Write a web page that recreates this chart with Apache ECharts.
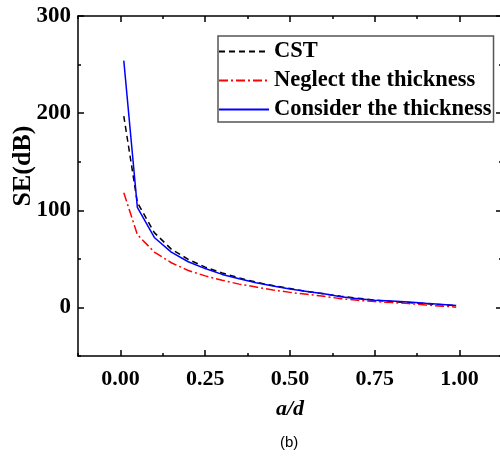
<!DOCTYPE html>
<html>
<head>
<meta charset="utf-8">
<script src="https://cdn.jsdelivr.net/npm/echarts@6/dist/echarts.min.js"></script>
<style>html,body{margin:0;padding:0;background:#fff;}#c{width:500px;height:462px;}</style>
</head>
<body>
<div id="c"></div>
<script>
var xValues = [0.01, 0.05, 0.1, 0.15, 0.2, 0.25, 0.3, 0.35, 0.4, 0.45, 0.5, 0.55, 0.6, 0.65, 0.7, 0.75, 0.8, 0.85, 0.9, 0.95, 0.99];
var cstValues = [197, 108, 77, 60, 49.5, 41.5, 35.5, 30.5, 26, 22.5, 19.5, 16.5, 14, 11.5, 9.5, 7.5, 6, 5, 3.8, 2.8, 1.8];
var neglectValues = [118, 75, 57, 46, 38, 32.5, 28, 24, 21, 18, 15.5, 13.5, 11.5, 9, 7.3, 6, 5, 4, 2.5, 1.3, 0.3];
var considerValues = [254, 103, 72, 57, 47, 40, 34, 29.5, 25.5, 22, 19, 16.5, 14, 11, 9, 7.5, 6.5, 5.5, 4.2, 3, 2];
var seriesNames = ['CST', 'Neglect the thickness', 'Consider the thickness'];
var xMajorTicks = [0, 0.25, 0.5, 0.75, 1.0];
var yMajorTicks = [0, 100, 200, 300];
var xTitle = 'a/d';
var yTitle = 'SE(dB)';
var caption = '(b)';

function pairs(ys) { return xValues.map(function (x, i) { return [x, ys[i]]; }); }

var FONT = 'Liberation Serif';
var chart = echarts.init(document.getElementById('c'), null, {renderer: 'canvas'});

function xAx(pos, major, showLine, showLabel) {
  return {
    type: 'value', position: pos, min: -0.125, max: 1.125, interval: 0.125,
    axisLine: {show: showLine, onZero: false, lineStyle: {color: '#000', width: 1.5}},
    axisTick: major ? {show: true, inside: true, length: 6, customValues: xMajorTicks, lineStyle: {color: '#000', width: 1.5}}
                    : {show: true, inside: true, length: 3, lineStyle: {color: '#000', width: 1.5}},
    axisLabel: {show: showLabel, margin: 12, color: '#000', fontFamily: FONT, fontWeight: 'bold', fontSize: 22,
      formatter: function (v) { var k = v / 0.25; if (Math.abs(k - Math.round(k)) < 1e-6 && v >= -1e-9 && v <= 1 + 1e-9) return v.toFixed(2); return ''; }},
    splitLine: {show: false}
  };
}
function yAx(pos, major, showLine, showLabel) {
  return {
    type: 'value', position: pos, min: -50, max: 300, interval: 50,
    axisLine: {show: showLine, onZero: false, lineStyle: {color: '#000', width: 1.5}},
    axisTick: major ? {show: true, inside: true, length: 6, customValues: yMajorTicks, lineStyle: {color: '#000', width: 1.5}}
                    : {show: true, inside: true, length: 3, lineStyle: {color: '#000', width: 1.5}},
    axisLabel: {show: showLabel, margin: 7, color: '#000', fontFamily: FONT, fontWeight: 'bold', fontSize: 23,
      formatter: function (v) { if (v >= 0 && Math.abs(v % 100) < 1e-6) return String(v); return ''; }},
    splitLine: {show: false}
  };
}

var xa0 = xAx('bottom', false, true, true);
xa0.name = xTitle; xa0.nameLocation = 'middle'; xa0.nameGap = 42; xa0.nameMoveOverlap = false;
xa0.nameTextStyle = {color: '#000', fontFamily: FONT, fontWeight: 'bold', fontStyle: 'italic', fontSize: 22};
var ya0 = yAx('left', false, true, true);
ya0.name = yTitle; ya0.nameLocation = 'middle'; ya0.nameGap = 42; ya0.nameRotate = 90; ya0.nameMoveOverlap = false;
ya0.nameTextStyle = {color: '#000', fontFamily: FONT, fontWeight: 'bold', fontSize: 26, padding: [0, 0, 0, 40]};

var option = {
  backgroundColor: '#fff',
  animation: false,
  grid: {left: 78, top: 16, right: -2, bottom: 106, containLabel: false, outerBoundsMode: 'none'},
  xAxis: [xa0, xAx('bottom', true, false, false), xAx('top', false, true, false), xAx('top', true, false, false)],
  yAxis: [ya0, yAx('left', true, false, false), yAx('right', false, true, false), yAx('right', true, false, false)],
  legend: {
    orient: 'vertical', left: 218, top: 36, itemWidth: 50, itemHeight: 14, itemGap: 6,
    padding: [4, 2, 1, 0], borderColor: '#555', borderWidth: 1.5, backgroundColor: '#fff',
    itemStyle: {opacity: 0},
    textStyle: {color: '#000', fontFamily: FONT, fontWeight: 'bold', fontSize: 22.5},
    data: seriesNames
  },
  graphic: [{type: 'text', left: 280, top: 435, style: {text: caption, font: '15px "Liberation Sans"', fill: '#000'}}],
  series: [
    {name: seriesNames[0], type: 'line', data: pairs(cstValues), showSymbol: false, symbol: 'none',
     lineStyle: {color: '#000', width: 1.5, type: [6, 4]}, itemStyle: {color: '#000'}},
    {name: seriesNames[1], type: 'line', data: pairs(neglectValues), showSymbol: false, symbol: 'none',
     lineStyle: {color: '#ff0000', width: 1.5, type: [9, 3, 2, 3]}, itemStyle: {color: '#ff0000'}},
    {name: seriesNames[2], type: 'line', data: pairs(considerValues), showSymbol: false, symbol: 'none',
     lineStyle: {color: '#0000ff', width: 1.5, type: 'solid'}, itemStyle: {color: '#0000ff'}}
  ]
};
chart.setOption(option);
</script>
</body>
</html>
